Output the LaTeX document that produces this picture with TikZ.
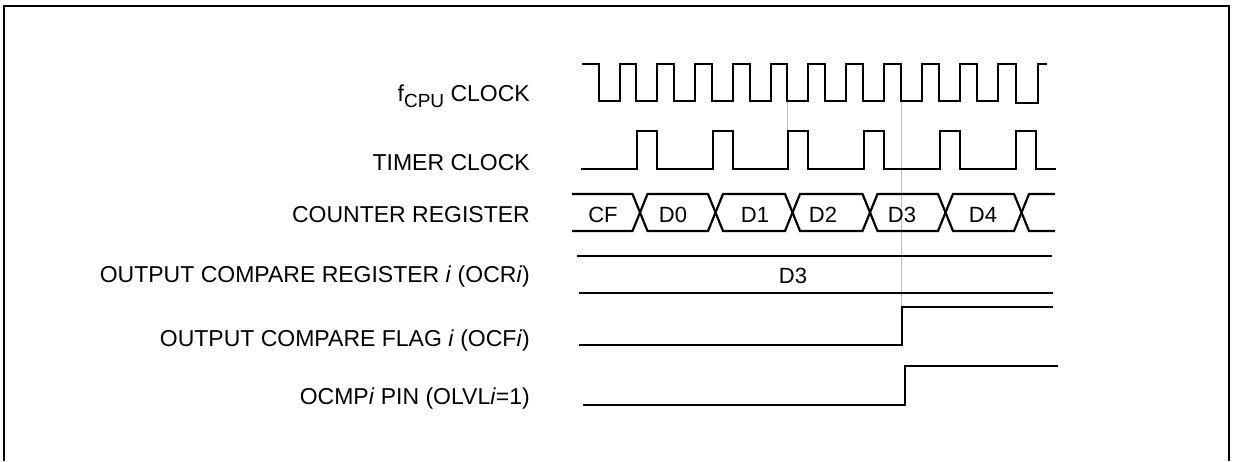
\documentclass[tikz,border=0pt]{standalone}
\usepackage{fontspec}
\setmainfont{Liberation Sans}
\usetikzlibrary{positioning}

\begin{document}
\begin{tikzpicture}[x=1pt,y=-1pt,
      sig label/.style={anchor=base east,inner sep=0pt,font=\fontsize{23}{27}\selectfont},
      bus label/.style={anchor=base,inner sep=0pt,font=\fontsize{22}{26}\selectfont},
      wave/.style={line width=2.2pt,line join=miter},
      marker/.style={line width=1pt,black!25}]
      \useasboundingbox (0,0) rectangle (1233,461);
      \draw[line width=2pt] (4,461) -- (4,6) -- (1229,6) -- (1229,461);

      % signal names
      \node[sig label] (fcpu) at (530,101.5) {f\raisebox{-5.5pt}{\fontsize{19}{22}\selectfont CPU} CLOCK};
      \node[sig label] (timer) at (530,170.5) {TIMER CLOCK};
      \node[sig label] (counter) at (530,222) {COUNTER REGISTER};
      \node[sig label] (ocr) at (530,282) {OUTPUT COMPARE REGISTER \textit{i} (OCR\textit{i})};
      \node[sig label] (ocf) at (530,346.5) {OUTPUT COMPARE FLAG \textit{i} (OCF\textit{i})};
      \node[sig label] (ocmp) at (530,404) {OCMP\textit{i} PIN (OLVL\textit{i}=1)};

      % compare instants
      \coordinate (tick a top) at (787,101);
      \coordinate (tick a bot) at (787,169);
      \coordinate (tick b top) at (901,98);
      \coordinate (tick b bot) at (901,307);
      \draw[marker] (tick a top) -- (tick a bot);
      \draw[marker] (tick b top) -- (tick b bot);

      % clocks
      \draw[wave] (582,64)
        \foreach \x in {599,636,674,712,750,787,825,863,901,939,977} {
          -- (\x,64) -- (\x,101) -- (\x+21,101) -- (\x+21,64) }
        -- (1016,64) -- (1016,103) -- (1038,103) -- (1038,64) -- (1047,64);
      \draw[wave] (581,169)
        \foreach \x in {637,713,788,864,940,1016} {
          -- (\x,169) -- (\x,131) -- (\x+20,131) -- (\x+20,169) }
        -- (1056,169);

      % counter register
      \draw[wave] (572,194) -- (632.5,194) -- (647.5,231) -- (708,231) -- (723,194)
        -- (785,194) -- (800,231) -- (862.5,231) -- (877.5,194) -- (938,194)
        -- (953,231) -- (1014,231) -- (1029,194) -- (1055,194);
      \draw[wave] (572,231) -- (632.5,231) -- (647.5,194) -- (708,194) -- (723,231)
        -- (785,231) -- (800,194) -- (862.5,194) -- (877.5,231) -- (938,231)
        -- (953,194) -- (1014,194) -- (1029,231) -- (1055,231);
      \node[bus label] (cf) at (603,222) {CF};
      \node[bus label] (d0) at (673,222) {D0};
      \node[bus label] (d1) at (755,222) {D1};
      \node[bus label] (d2) at (823,222) {D2};
      \node[bus label] (d3) at (902,222) {D3};
      \node[bus label] (d4) at (983,222) {D4};

      % compare register
      \draw[wave] (577,256) -- (1052,256);
      \draw[wave] (579,293) -- (1053,293);
      \node[bus label] (ocr val) at (793,283) {D3};

      % flag and pin
      \draw[wave] (579,345) -- (902,345) -- (902,307) -- (1053,307);
      \draw[wave] (583,405) -- (905,405) -- (905,366) -- (1058,366);
\end{tikzpicture}
\end{document}
